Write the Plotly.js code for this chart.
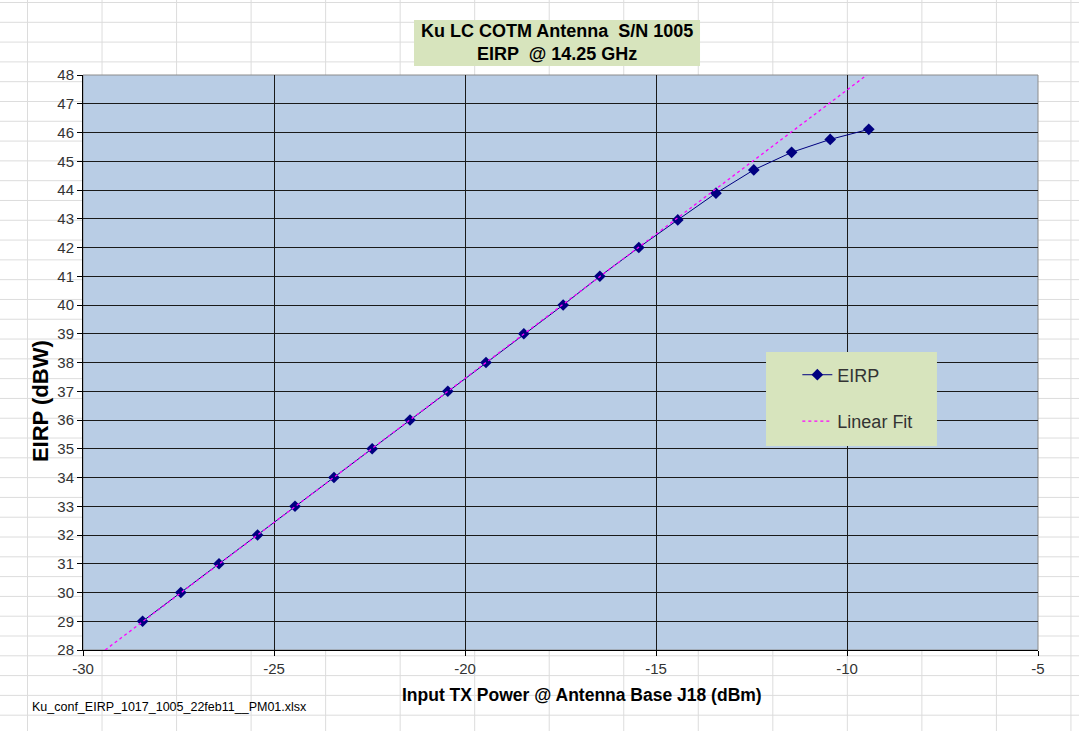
<!DOCTYPE html>
<html>
<head>
<meta charset="utf-8">
<script src="https://cdn.plot.ly/plotly-3.0.1.min.js"></script>
<style>
html,body{margin:0;padding:0;width:1079px;height:731px;overflow:hidden;}
body{
  background-color:#ffffff;
  background-image:
    linear-gradient(to right, #dcdcdc 1px, transparent 1px),
    linear-gradient(to bottom, #dcdcdc 1px, transparent 1px);
  background-size:74.54px 19.8px;
  background-position:27px 2px;
}
#chart{width:1079px;height:731px;}
</style>
</head>
<body>
<div id="chart"></div>
<script>
const inputPower = [-28.44,-27.44,-26.44,-25.43,-24.45,-23.43,-22.43,-21.44,-20.45,-19.45,-18.46,-17.43,-16.47,-15.45,-14.43,-13.43,-12.44,-11.45,-10.44,-9.43];
const eirp = [29,30,31,32,33,34,35,36,37,38,39,40,41,42,42.96,43.89,44.70,45.31,45.76,46.11];
// Linear fit line end points
const fitX = [-29.42,-9.48];
const fitY = [28,48];

const xTicks = [-30,-25,-20,-15,-10,-5];
const xTickText = ["-30","-25","-20","-15","-10","-5"];
const yTicks = [28,29,30,31,32,33,34,35,36,37,38,39,40,41,42,43,44,45,46,47,48];
const yTickText = ["28","29","30","31","32","33","34","35","36","37","38","39","40","41","42","43","44","45","46","47","48"];

const titleText = "Ku LC COTM Antenna  S/N 1005<br>EIRP  @ 14.25 GHz";
const xTitle = "Input TX Power @ Antenna Base J18 (dBm)";
const yTitle = "EIRP (dBW)";
const footText = "Ku_conf_EIRP_1017_1005_22feb11__PM01.xlsx";

const FONT = "Arial, 'Liberation Sans', sans-serif";

const traces = [
  {
    x: inputPower, y: eirp, name: "EIRP", type: "scatter", mode: "lines+markers",
    line: {color: "#000080", width: 1},
    marker: {symbol: "diamond", size: 9, color: "#000080"},
    legendgroup: "a", cliponaxis: false
  },
  {
    x: fitX, y: fitY, name: "Linear Fit", type: "scatter", mode: "lines",
    line: {color: "#FF00FF", width: 1.3, dash: "dot"},
    legendgroup: "b"
  }
];

const layout = {
  width: 1079, height: 731,
  margin: {l: 83, r: 41, t: 75, b: 81},
  paper_bgcolor: "rgba(0,0,0,0)",
  plot_bgcolor: "#B9CDE5",
  font: {family: FONT, color: "#333333"},
  showlegend: true,
  legend: {
    x: 0.748, y: 0.5104, xanchor: "left", yanchor: "top",
    bgcolor: "rgba(0,0,0,0)", borderwidth: 0,
    font: {family: FONT, size: 18, color: "#333333"},
    traceorder: "grouped", tracegroupgap: 20
  },
  xaxis: {
    range: [-30, -5], tickmode: "array", tickvals: xTicks, ticktext: xTickText,
    showgrid: true, gridcolor: "#1a1a1a", gridwidth: 1,
    zeroline: false, showline: true, linecolor: "#000000", linewidth: 1,
    ticks: "outside", ticklen: 5, tickcolor: "#000000",
    tickfont: {family: FONT, size: 15, color: "#333333"},
    fixedrange: true
  },
  yaxis: {
    range: [28, 48], tickmode: "array", tickvals: yTicks, ticktext: yTickText,
    showgrid: true, gridcolor: "#1a1a1a", gridwidth: 1,
    zeroline: false, showline: true, linecolor: "#000000", linewidth: 1,
    ticks: "outside", ticklen: 5, tickcolor: "#000000",
    tickfont: {family: FONT, size: 15, color: "#333333"},
    fixedrange: true
  },
  shapes: [
    {type: "rect", xref: "paper", yref: "paper", x0: 0, x1: 1, y0: 0, y1: 1,
     line: {color: "#8c8c8c", width: 1}, layer: "below"},
    {type: "rect", xref: "paper", yref: "paper", x0: 0.3466, x1: 0.6461, y0: 1.0157, y1: 1.0957,
     fillcolor: "#D7E4BD", line: {width: 0}, layer: "above"},
    {type: "rect", xref: "paper", yref: "paper", x0: 0.7152, x1: 0.8942, y0: 0.3548, y1: 0.5183,
     fillcolor: "#D7E4BD", line: {width: 0}, layer: "above"}
  ],
  annotations: [
    {text: "<b>" + titleText + "</b>", xref: "paper", yref: "paper", x: 0.4963, y: 1.0557,
     xanchor: "center", yanchor: "middle", showarrow: false,
     font: {family: FONT, size: 18, color: "#000000"}},
    {text: "<b>" + xTitle + "</b>", xref: "paper", yref: "paper", x: 0.5225, y: -0.0783,
     xanchor: "center", yanchor: "middle", showarrow: false,
     font: {family: FONT, size: 17.5, color: "#000000"}},
    {text: "<b>" + yTitle + "</b>", xref: "paper", yref: "paper", x: -0.045, y: 0.433,
     xanchor: "center", yanchor: "middle", textangle: -90, showarrow: false,
     font: {family: FONT, size: 22, color: "#000000"}},
    {text: footText, xref: "paper", yref: "paper", x: -0.0555, y: -0.0991,
     xanchor: "left", yanchor: "middle", showarrow: false,
     font: {family: FONT, size: 12.5, color: "#000000"}}
  ]
};

Plotly.newPlot("chart", traces, layout, {displayModeBar: false, staticPlot: true});
</script>
</body>
</html>
